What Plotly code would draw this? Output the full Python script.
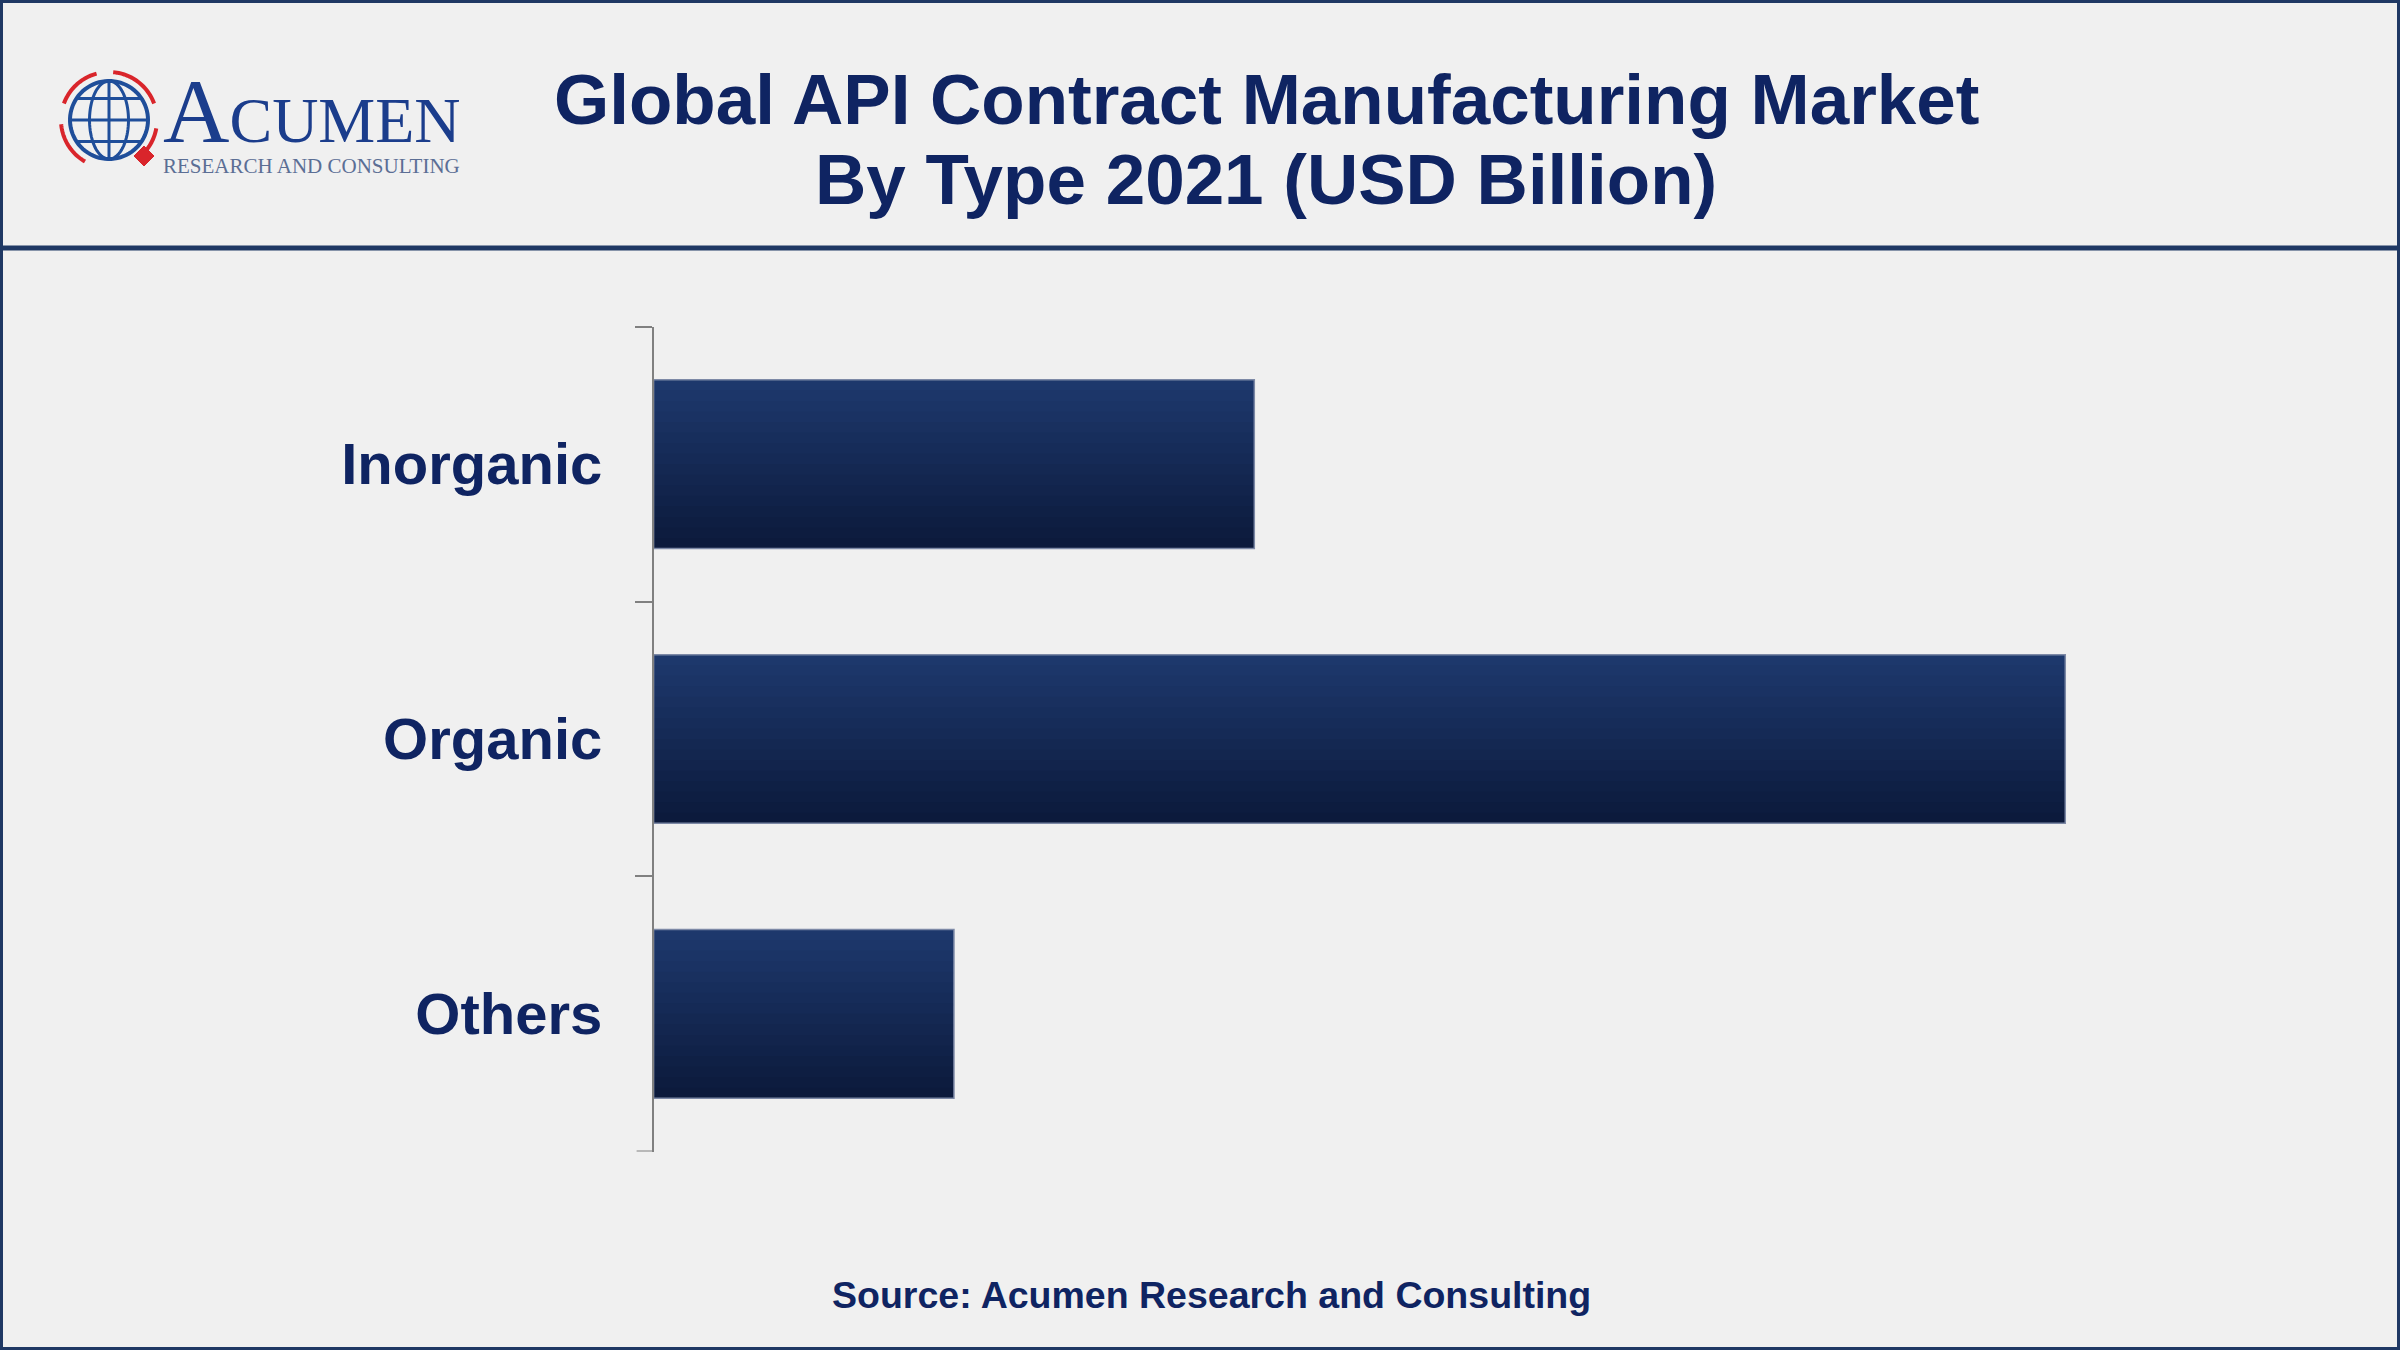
import numpy as np
import plotly.graph_objects as go

# ---------------- data ----------------
categories = ["Inorganic", "Organic", "Others"]
values = [26.0, 61.1, 13.0]          # USD Billion

title_line1 = "Global API Contract Manufacturing Market"
title_line2 = "By Type 2021 (USD Billion)"
source_text = "Source: Acumen Research and Consulting"

# ---------------- helpers ----------------
W, H = 2400, 1350
NAVY = "#1f3864"
TXT = "#0f2462"
AXIS_GREY = "#808080"
X_LEFT = 653.6


def px(x):
    return x / W


def py(y):
    return 1 - y / H


fig = go.Figure()

# gradient bars built from stacked horizontal stripes of the same bars
n_stripes = 16
half = 0.307
sw = 2 * half / n_stripes
top_c = np.array([0x1e, 0x39, 0x6e])
bot_c = np.array([0x0b, 0x19, 0x3a])
for i in range(n_stripes):
    t = (i + 0.5) / n_stripes
    c = top_c * (1 - t) + bot_c * t
    col = "rgb(%d,%d,%d)" % tuple(int(round(v)) for v in c)
    width = sw * 1.25 if i < n_stripes - 1 else sw
    fig.add_trace(go.Bar(
        y=categories, x=values, orientation="h",
        width=width, offset=-half + i * sw,
        marker=dict(color=col, line=dict(width=0)),
        showlegend=False, hoverinfo="skip",
    ))
# outline
fig.add_trace(go.Bar(
    y=categories, x=values, orientation="h",
    width=2 * half, offset=-half,
    marker=dict(color="rgba(0,0,0,0)", line=dict(color="#7d89a6", width=1.5)),
    showlegend=False, hoverinfo="skip",
))

fig.update_layout(
    width=W, height=H,
    margin=dict(l=0, r=0, t=0, b=0),
    paper_bgcolor="#f0f0f0", plot_bgcolor="#f0f0f0",
    barmode="overlay",
    xaxis=dict(domain=[X_LEFT / W, 0.9], range=[0, 65.2], visible=False),
    yaxis=dict(
        domain=[py(1151.5), py(326.5)],
        type="category", categoryorder="array", categoryarray=categories,
        range=[2.501, -0.501],
        showline=True, linecolor=AXIS_GREY, linewidth=1.5,
        ticks="outside", tickson="boundaries", ticklen=17,
        tickcolor=AXIS_GREY, tickwidth=1.5,
        tickfont=dict(family="Liberation Sans, Arial", size=58, color=TXT, weight="bold"),
        ticklabelstandoff=38,
        showgrid=False, zeroline=False,
    ),
)

shapes = []
# outer frame and header separator
shapes.append(dict(type="rect", xref="paper", yref="paper", x0=0, y0=0, x1=1, y1=1,
                   line=dict(color=NAVY, width=6), fillcolor="rgba(0,0,0,0)"))
shapes.append(dict(type="line", xref="paper", yref="paper", x0=0, x1=1, y0=py(248), y1=py(248),
                   line=dict(color=NAVY, width=5)))
# closing boundary tick at the bottom of the category axis
shapes.append(dict(type="line", xref="paper", yref="y", x0=px(X_LEFT - 17), x1=px(X_LEFT),
                   y0=len(categories) - 0.5, y1=len(categories) - 0.5,
                   line=dict(color=AXIS_GREY, width=1.5)))


def path_from(points, close=False):
    s = "M " + " L ".join("%f %f" % (px(x), py(y)) for x, y in points)
    return s + (" Z" if close else "")


# logo globe
gx, gy, gr = 109, 120, 39
BLUE = "#1f4e9a"
RED = "#d9252b"
ang = np.linspace(0, 2 * np.pi, 80)
shapes.append(dict(type="path", xref="paper", yref="paper",
                   path=path_from([(gx + gr * np.cos(a), gy + gr * np.sin(a)) for a in ang], True),
                   line=dict(color=BLUE, width=4)))
shapes.append(dict(type="path", xref="paper", yref="paper",
                   path=path_from([(gx + 0.5 * gr * np.cos(a), gy + gr * np.sin(a)) for a in ang], True),
                   line=dict(color=BLUE, width=3)))
shapes.append(dict(type="line", xref="paper", yref="paper", x0=px(gx), x1=px(gx),
                   y0=py(gy - gr), y1=py(gy + gr), line=dict(color=BLUE, width=3)))
for f in (-0.55, 0.0, 0.55):
    hl = gr * np.sqrt(1 - f * f)
    shapes.append(dict(type="line", xref="paper", yref="paper", x0=px(gx - hl), x1=px(gx + hl),
                       y0=py(gy + f * gr), y1=py(gy + f * gr), line=dict(color=BLUE, width=3)))
# red ring segments
rr = 48
for a0, a1 in ((200, 255), (275, 340), (10, 40), (120, 175)):
    aa = np.radians(np.linspace(a0, a1, 30))
    shapes.append(dict(type="path", xref="paper", yref="paper",
                       path=path_from([(gx + rr * np.cos(a), gy + rr * np.sin(a)) for a in aa]),
                       line=dict(color=RED, width=4)))
# red diamond
dx, dy, dd = 144, 156, 10
shapes.append(dict(type="path", xref="paper", yref="paper",
                   path=path_from([(dx, dy - dd), (dx + dd, dy), (dx, dy + dd), (dx - dd, dy)], True),
                   fillcolor=RED, line=dict(color=RED, width=1)))

fig.update_layout(shapes=shapes)

logo_text = ('<span style="font-size:92px">A</span><span style="font-size:64px">CUMEN</span>'
             '<br><span style="font-size:21px;color:#5b6e95">RESEARCH AND CONSULTING</span>')

ann = []
ann.append(dict(text=logo_text, x=px(161), y=py(180), align="left",
                xref="paper", yref="paper", xanchor="left", yanchor="bottom", showarrow=False,
                font=dict(family="Liberation Serif", size=24, color="#1b3d8c")))
ann.append(dict(text="<b>%s</b>" % title_line1, x=px(1266), y=py(99),
                xref="paper", yref="paper", xanchor="center", yanchor="middle", showarrow=False,
                font=dict(family="Liberation Sans, Arial", size=71, color=TXT)))
ann.append(dict(text="<b>%s</b>" % title_line2, x=px(1266), y=py(180),
                xref="paper", yref="paper", xanchor="center", yanchor="middle", showarrow=False,
                font=dict(family="Liberation Sans, Arial", size=71, color=TXT)))
ann.append(dict(text="<b>%s</b>" % source_text, x=px(1211), y=py(1295),
                xref="paper", yref="paper", xanchor="center", yanchor="middle", showarrow=False,
                font=dict(family="Liberation Sans, Arial", size=37.5, color=TXT)))
fig.update_layout(annotations=ann)

fig.write_html(
    "out.html",
    config={"displayModeBar": False},
    post_script="document.body.style.margin='0';document.body.style.overflow='hidden';",
)
